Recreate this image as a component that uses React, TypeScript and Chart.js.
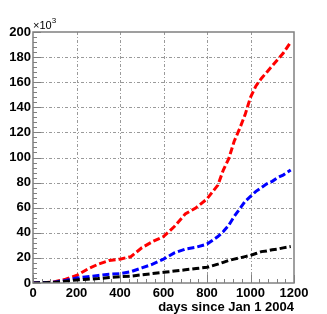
import React, { useEffect, useRef } from "react";
import { Chart, registerables } from "chart.js";

Chart.register(...registerables);

const days = [0, 50, 100, 150, 200, 250, 300, 350, 400, 450, 500, 550, 600, 650, 700, 750, 800, 850, 875, 900, 925, 950, 975, 1000, 1025, 1050, 1075, 1100, 1125, 1150, 1185];
const redK = [0, 0.3, 1, 3, 6, 11, 15, 18, 19, 21, 28, 33, 37, 45, 55, 60, 67, 78, 90, 99, 113, 123, 134, 148, 157, 163, 168, 173, 178, 183, 192];
const blueK = [0, 0.2, 0.7, 2, 4, 5, 6, 7, 7.5, 9, 12, 15, 19, 24, 27, 28.5, 31, 37, 41, 46, 53, 59, 65, 69, 73, 76, 79, 81, 84, 86, 90];
const blackK = [0, 0.2, 0.5, 1.5, 2.4, 3, 3.5, 4.3, 5, 5.5, 6.5, 7.5, 8.5, 9.5, 10.5, 11.5, 12.5, 15, 16.5, 18, 19, 20, 21, 22, 23.5, 25, 25.5, 26.5, 27, 28, 29];

const xTitle = "days since Jan 1 2004";
const FONT = "'Liberation Sans', Arial, Helvetica, sans-serif";

const framePlugin = {
  id: "frame",
  beforeDatasetsDraw(chart: any) {
    const { ctx, chartArea: a, scales } = chart;
    const x = scales.x, y = scales.y;
    ctx.save();
    ctx.strokeStyle = "#9a9a9a";
    ctx.lineWidth = 1;
    ctx.setLineDash([3, 2, 1, 2]);
    for (let v = 200; v < 1200; v += 200) {
      const px = Math.round(x.getPixelForValue(v)) + 0.5;
      ctx.beginPath(); ctx.moveTo(px, a.top); ctx.lineTo(px, a.bottom); ctx.stroke();
    }
    for (let v = 20; v < 200; v += 20) {
      const py = Math.round(y.getPixelForValue(v)) + 0.5;
      ctx.beginPath(); ctx.moveTo(a.left, py); ctx.lineTo(a.right, py); ctx.stroke();
    }
    ctx.setLineDash([]);
    ctx.strokeStyle = "#808080";
    ctx.lineWidth = 1;
    for (let v = 0; v <= 1200; v += 40) {
      const px = Math.round(x.getPixelForValue(v)) + 0.5;
      const len = v % 200 === 0 ? 8 : 4;
      ctx.beginPath(); ctx.moveTo(px, a.bottom); ctx.lineTo(px, a.bottom - len); ctx.stroke();
    }
    for (let v = 0; v <= 200; v += 4) {
      const py = Math.round(y.getPixelForValue(v)) + 0.5;
      const len = v % 20 === 0 ? 8 : 4;
      ctx.beginPath(); ctx.moveTo(a.left, py); ctx.lineTo(a.left + len, py); ctx.stroke();
    }
    ctx.restore();
  },
  afterDatasetsDraw(chart: any) {
    const { ctx, chartArea: a } = chart;
    ctx.save();
    ctx.strokeStyle = "#808080";
    ctx.lineWidth = 1.5;
    ctx.strokeRect(a.left, a.top, a.right - a.left, a.bottom - a.top);
    ctx.fillStyle = "#000";
    ctx.textBaseline = "middle";
    ctx.font = `bold 13px ${FONT}`;
    ctx.textAlign = "right";
    ctx.fillText(xTitle, a.right, 307);
    ctx.textAlign = "left";
    ctx.font = `11px ${FONT}`;
    ctx.fillText("\u00d710", a.left, 26);
    const w = ctx.measureText("\u00d710").width;
    ctx.font = `8px ${FONT}`;
    ctx.fillText("3", a.left + w, 21);
    ctx.restore();
  },
};

export default function App() {
  const ref = useRef<HTMLCanvasElement | null>(null);
  useEffect(() => {
    document.body.style.margin = "0";
    const mk = (vals: number[]) => days.map((d, i) => ({ x: d, y: vals[i] }));
    const ds = (label: string, vals: number[], color: string) => ({
      label,
      data: mk(vals),
      borderColor: color,
      backgroundColor: color,
      borderWidth: 3,
      borderDash: [7, 3],
      pointRadius: 0,
      fill: false,
      tension: 0,
    });
    const tickFont = { family: FONT, size: 13, weight: "bold" };
    const chart = new Chart(ref.current as HTMLCanvasElement, {
      type: "line",
      data: {
        datasets: [ds("black", blackK, "#000000"), ds("blue", blueK, "#0000ff"), ds("red", redK, "#ff0000")],
      },
      options: {
        animation: false,
        responsive: false,
        layout: { padding: { left: 0, right: 33, top: 32, bottom: 0 } },
        plugins: { legend: { display: false }, tooltip: { enabled: false } },
        scales: {
          x: {
            type: "linear",
            min: 0,
            max: 1200,
            grid: { display: false, drawTicks: false },
            border: { display: false },
            ticks: { stepSize: 200, color: "#000", padding: 3, maxRotation: 0, font: tickFont, callback: (v: any) => String(v) },
            afterFit: (s: any) => { s.height = 31; },
          },
          y: {
            type: "linear",
            min: 0,
            max: 200,
            grid: { display: false, drawTicks: false },
            border: { display: false },
            ticks: { stepSize: 20, color: "#000", padding: 2, font: tickFont, callback: (v: any) => String(v) },
            afterFit: (s: any) => { s.width = 33; },
          },
        },
      } as any,
      plugins: [framePlugin],
    });
    return () => chart.destroy();
  }, []);
  return (
    <div style={{ position: "absolute", left: 0, top: 0, width: 327, height: 314 }}>
      <canvas ref={ref} width={327} height={314} />
    </div>
  );
}
